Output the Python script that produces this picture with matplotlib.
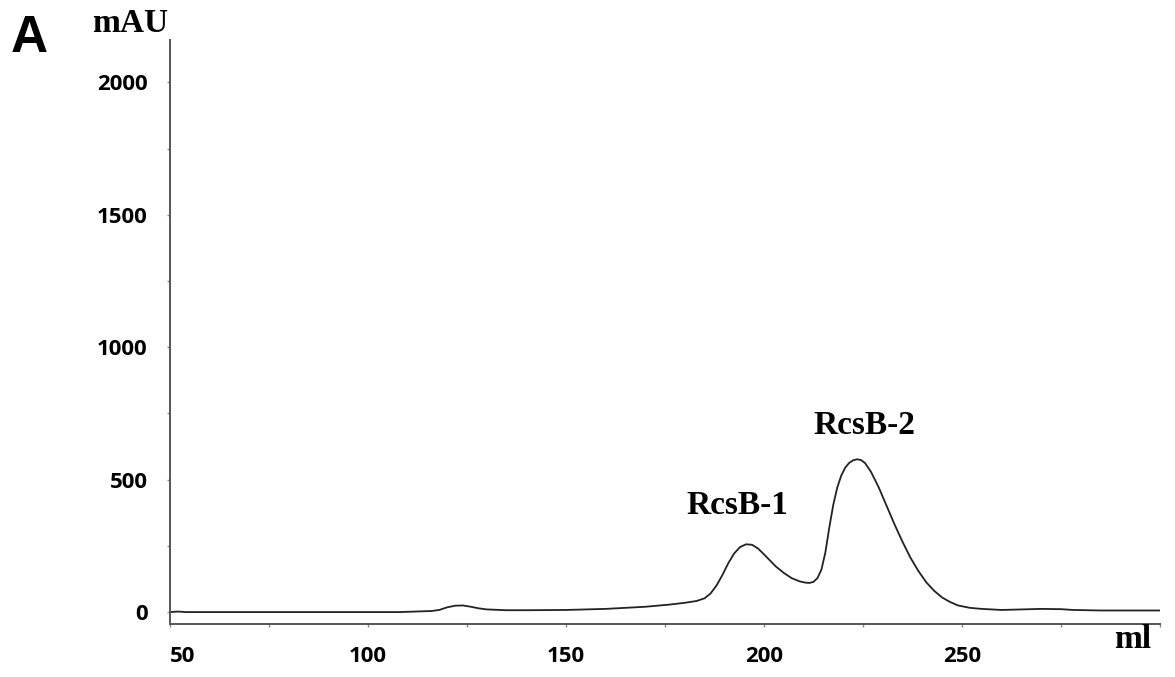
import matplotlib.pyplot as plt
from matplotlib.ticker import MultipleLocator

# elution volume (ml) and absorbance (mAU)
volume = [50, 52, 54, 60, 80, 100, 108, 112, 116, 118, 120, 122, 124, 126, 128,
          130, 135, 140, 150, 160, 170, 176, 180, 183, 185, 186.5, 188, 189.5,
          191, 192.5, 194, 195.5, 197, 198.5, 200, 201.5, 203, 205, 207, 209,
          210.5, 211.5, 212.5, 213.5, 214.5, 215.5, 216.5, 217.5, 218.5, 219.5,
          220.5, 221.5, 222.5, 223.5, 224.5, 225.5, 227, 229, 231, 233, 235, 237,
          239, 241, 243, 245, 247, 249, 252, 255, 260, 265, 270, 275, 278, 285, 300]
mau = [0, 2, 0, 0, 0, 0, 0, 2, 4, 8, 18, 24, 25, 20, 14,
       10, 7, 7, 8, 12, 20, 28, 35, 42, 52, 70, 100, 140,
       185, 222, 246, 256, 254, 240, 218, 195, 172, 148, 128, 116,
       111, 110, 114, 128, 160, 225, 320, 405, 470, 515,
       545, 563, 573, 577, 574, 563, 530, 470, 400, 330, 265, 205,
       155, 112, 80, 55, 38, 25, 16, 12, 8, 10, 12, 11, 8, 6, 6]

peak_labels = ["RcsB-1", "RcsB-2"]
peak_pos = [(193.3, 404), (225.3, 706)]

fig = plt.figure(figsize=(11.75, 6.77), dpi=100)
ax = fig.add_axes([0.1447, 0.0783, 0.8425, 0.8626])

ax.plot(volume, mau, color="#222222", lw=1.3)

ax.set_xlim(50, 300)
ax.set_ylim(-45, 2160)
ax.xaxis.set_major_locator(MultipleLocator(50))
ax.xaxis.set_minor_locator(MultipleLocator(25))
ax.yaxis.set_major_locator(MultipleLocator(500))
ax.yaxis.set_minor_locator(MultipleLocator(250))
ax.set_xticks([50, 100, 150, 200, 250])

for s in ["top", "right"]:
    ax.spines[s].set_visible(False)
for s in ["left", "bottom"]:
    ax.spines[s].set_color("#555555")
    ax.spines[s].set_linewidth(1.4)

ax.tick_params(which="both", length=2, width=1, color="#888888")
ax.tick_params(axis="y", pad=14)
ax.tick_params(axis="x", pad=14)
for lab in ax.get_xticklabels() + ax.get_yticklabels():
    lab.set_fontfamily("Open Sans")
    lab.set_fontweight("bold")
    lab.set_fontsize(16)
ax.get_xticklabels()[0].set_horizontalalignment("left")

for txt, (x, y) in zip(peak_labels, peak_pos):
    ax.text(x, y, txt, ha="center", va="center", fontsize=24,
            fontfamily="Liberation Serif", fontweight="bold")

fig.text(130 / 1175, 1 - 23 / 677, "mAU", ha="center", va="center", fontsize=24,
         fontfamily="Liberation Serif", fontweight="bold")
fig.text(1133 / 1175, 1 - 640 / 677, "ml", ha="center", va="center", fontsize=24,
         fontfamily="Liberation Serif", fontweight="bold")
fig.text(29 / 1175, 1 - 38 / 677, "A", ha="center", va="center", fontsize=37,
         fontfamily="Liberation Sans", fontweight="bold")

fig.savefig("out.png", dpi=100)
